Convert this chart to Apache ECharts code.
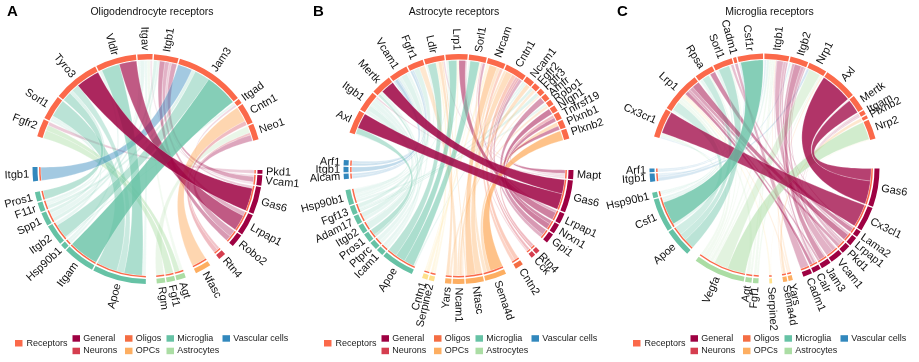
<!DOCTYPE html>
<html><head><meta charset="utf-8">
<script src="https://cdn.jsdelivr.net/npm/echarts@6/dist/echarts.min.js"></script>
<style>html,body{margin:0;padding:0;background:#fff}#c{width:919px;height:362px}</style>
</head><body><div id="c"></div>
<script>
// ---------------- DATA ----------------
const panelTitles = ['Oligodendrocyte receptors', 'Astrocyte receptors', 'Microglia receptors'];
const panelLetters = ['A', 'B', 'C'];
const legendGroups = ['General', 'Neurons', 'Oligos', 'OPCs', 'Microglia', 'Astrocytes', 'Vascular cells'];

// Panel A
const recA = ['Fgfr2','Sorl1','Tyro3','Vldlr','Itgav','Itgb1','Jam3','Itgad','Cntn1','Neo1'];
const recSizeA = [9.5, 13, 24.5, 21.5, 8, 13, 37, 2.5, 11, 8.5];
const ligA = ['Pkd1','Vcam1','Gas6','Lrpap1','Robo2','Rtn4','Nfasc','Agt','Fgf1','Rgm','Apoe','Itgam','Hsp90b1','Itgb2','Spp1','F11r','Pros1','Itgb1'];
const ligGroupA = ['General','General','General','General','General','Neurons','OPCs','Astrocytes','Astrocytes','Astrocytes','Microglia','Microglia','Microglia','Microglia','Microglia','Microglia','Microglia','Vascular cells'];
const ligSizeA = [2, 5.5, 14.5, 11.5, 7, 4, 8.5, 5, 4.5, 4.5, 28.5, 17, 3, 11, 7, 5, 5, 7.5];
const linksA = [
 ['Pkd1','Fgfr2',2,0.2],['Agt','Fgfr2',3,0.45],['Fgf1','Fgfr2',4.5,0.45],
 ['Apoe','Sorl1',11,0.45],['Itgb2','Sorl1',2,0.15],['F11r','Sorl1',1.5,0.15],
 ['Pros1','Tyro3',5,0.45],['Gas6','Tyro3',13,0.85],['Spp1','Tyro3',2,0.2],['Apoe','Tyro3',4,0.35],
 ['Apoe','Vldlr',9.5,0.55],['Lrpap1','Vldlr',9,0.65],['Hsp90b1','Vldlr',1.5,0.15],
 ['Spp1','Itgav',3,0.15],['Agt','Itgav',2,0.15],['Vcam1','Itgav',1.5,0.1],['F11r','Itgav',1.5,0.12],['Apoe','Itgav',2,0.12],
 ['Vcam1','Itgb1',3,0.35],['Spp1','Itgb1',2,0.2],['Lrpap1','Itgb1',2.5,0.3],['Hsp90b1','Itgb1',1.5,0.15],['Robo2','Itgb1',3,0.4],['Gas6','Itgb1',1.5,0.2],
 ['Itgb1','Jam3',7.5,0.45],['Itgb2','Jam3',8,0.45],['Itgam','Jam3',17,0.8],['F11r','Jam3',2,0.2],
 ['Vcam1','Itgad',1,0.15],['Itgb2','Itgad',1,0.15],
 ['Rtn4','Cntn1',2.5,0.35],['Nfasc','Cntn1',8.5,0.5],
 ['Rtn4','Neo1',1.5,0.3],['Rgm','Neo1',4.5,0.25],['Robo2','Neo1',4,0.35]
];

// Panel B
const recB = ['Axl','Itgb1','Mertk','Vcam1','Fgfr1','Ldlr','Lrp1','Sorl1','Nrcam','Cntn1','Ncam1','Fgfr2','Fgfr3','Amfr','Robo1','Nlgn1','Tnfrsf19','Plxnb1','Plxnb2'];
const recSizeB = [13.1, 11.4, 11.4, 10.5, 8.9, 11.2, 12.2, 9.8, 10, 12, 5, 3.5, 3, 3.5, 3, 3.5, 4, 4.5, 5.6];
const ligB = ['Mapt','Gas6','Lrpap1','Nrxn1','Gpi1','Rtn4','Cck','Cntn2','Sema4d','Nfasc','Ncam1','Yars','Serpine2','Cntn1','Apoe','Icam1','Ptprc','Pros1','Itgb2','Adam17','Fgf13','Hsp90b1','Alcam','Itgb1','Arf1'];
const ligGroupB = ['General','General','General','General','General','Neurons','Neurons','Oligos','OPCs','OPCs','OPCs','OPCs','Other','Other','Microglia','Microglia','Microglia','Microglia','Microglia','Microglia','Microglia','Microglia','Vascular cells','Vascular cells','Vascular cells'];
const ligSizeB = [5, 18, 6, 5.5, 5.5, 2.5, 2.5, 4.5, 12, 10, 6.5, 3.5, 3, 3, 18.5, 4, 4.5, 5, 5, 5, 5, 8.5, 3, 3, 3];
const linksB = [
 ['Gas6','Axl',9,0.85],['Pros1','Axl',3.5,0.45],['Hsp90b1','Axl',0.6,0.1],
 ['Hsp90b1','Itgb1',2,0.15],['Adam17','Itgb1',3,0.2],['Itgb2','Itgb1',1,0.15],['Icam1','Itgb1',2,0.15],['Ptprc','Itgb1',2.5,0.15],['Mapt','Itgb1',1,0.15],
 ['Gas6','Mertk',8,0.85],['Pros1','Mertk',1.5,0.3],['Icam1','Mertk',2,0.12],
 ['Itgb2','Vcam1',4,0.2],['Ptprc','Vcam1',2,0.12],['Adam17','Vcam1',2,0.15],['Itgb1','Vcam1',2,0.3],['Alcam','Vcam1',1,0.2],['Arf1','Vcam1',1,0.2],
 ['Fgf13','Fgfr1',3,0.2],['Ncam1','Fgfr1',3,0.3],['Arf1','Fgfr1',1,0.25],['Alcam','Fgfr1',1,0.2],
 ['Apoe','Ldlr',5,0.45],['Serpine2','Ldlr',1.5,0.25],['Nfasc','Ldlr',1,0.3],['Yars','Ldlr',2,0.35],['Hsp90b1','Ldlr',1,0.12],['Mapt','Ldlr',1,0.15],
 ['Lrpap1','Lrp1',4.5,0.5],['Apoe','Lrp1',5.5,0.55],['Serpine2','Lrp1',1.5,0.2],['Hsp90b1','Lrp1',1.5,0.12],['Mapt','Lrp1',1,0.15],
 ['Apoe','Sorl1',5.5,0.55],['Lrpap1','Sorl1',1.5,0.3],['Cck','Sorl1',1,0.2],['Hsp90b1','Sorl1',1,0.12],['Cntn1','Sorl1',1,0.2],
 ['Nfasc','Nrcam',5,0.5],['Cntn2','Nrcam',2,0.3],['Cntn1','Nrcam',2,0.25],['Sema4d','Nrcam',2,0.3],
 ['Nfasc','Cntn1',4,0.4],['Rtn4','Cntn1',1,0.4],['Cck','Cntn1',1.5,0.35],['Cntn2','Cntn1',2.5,0.35],['Gpi1','Cntn1',2,0.3],['Ncam1','Cntn1',1.5,0.3],
 ['Ncam1','Ncam1',2,0.35],['Fgf13','Ncam1',1,0.15],['Apoe','Ncam1',1,0.15],
 ['Fgf13','Fgfr2',1,0.2],['Ncam1','Fgfr2',1,0.25],
 ['Fgf13','Fgfr3',1,0.2],['Ncam1','Fgfr3',0.5,0.2],
 ['Gpi1','Amfr',3.5,0.4],
 ['Yars','Robo1',1.5,0.25],['Hsp90b1','Robo1',1.5,0.15],
 ['Nrxn1','Nlgn1',3,0.5],
 ['Nrxn1','Tnfrsf19',2,0.45],['Rtn4','Tnfrsf19',1.5,0.35],
 ['Sema4d','Plxnb1',2,0.4],['Mapt','Plxnb1',2,0.45],
 ['Sema4d','Plxnb2',7,0.75]
];

// Panel C
const recC = ['Cx3cr1','Lrp1','Rpsa','Sorl1','Cadm1','Csf1r','Itgb1','Itgb2','Nrp1','Axl','Mertk','Itgam','Plxnb2','Nrp2'];
const recSizeC = [15.8, 22.2, 10.2, 10.5, 1.7, 13.7, 13.3, 9.8, 10, 18.2, 8.5, 2.3, 1.8, 10.7];
const ligC = ['Gas6','Cx3cl1','Lama2','Lrpap1','Pkd1','Vcam1','Jam3','Calr','Cadm1','Yars','Sema4d','Serpine2','Fgf1','Agt','Vegfa','Apoe','Csf1','Hsp90b1','Itgb1','Arf1'];
const ligGroupC = ['General','General','General','General','General','General','General','General','General','OPCs','OPCs','Other','Astrocytes','Astrocytes','Astrocytes','Microglia','Microglia','Microglia','Vascular cells','Vascular cells'];
const ligSizeC = [21, 13.5, 3.5, 5, 5, 7, 5.5, 4.5, 5, 2.3, 2.3, 1.5, 3, 3.5, 28.5, 15.5, 18.5, 3, 4.5, 2];
const linksC = [
 ['Cx3cl1','Cx3cr1',13,0.75],['Vegfa','Cx3cr1',1.5,0.15],['Hsp90b1','Cx3cr1',1,0.12],['Itgb1','Cx3cr1',0.8,0.12],
 ['Lrpap1','Lrp1',4,0.5],['Calr','Lrp1',2,0.45],['Apoe','Lrp1',5,0.3],['Serpine2','Lrp1',1.5,0.2],['Pkd1','Lrp1',2,0.35],['Hsp90b1','Lrp1',1,0.12],['Agt','Lrp1',1.5,0.15],['Vegfa','Lrp1',2,0.15],['Yars','Lrp1',0.7,0.2],['Jam3','Lrp1',1.5,0.3],
 ['Lama2','Rpsa',3,0.45],['Apoe','Rpsa',4,0.35],['Hsp90b1','Rpsa',0.5,0.1],['Vegfa','Rpsa',1,0.15],['Csf1','Rpsa',1.5,0.15],
 ['Apoe','Sorl1',6,0.45],['Lrpap1','Sorl1',1.5,0.25],['Csf1','Sorl1',1.5,0.15],['Vegfa','Sorl1',1,0.12],
 ['Cadm1','Cadm1',1.7,0.3],
 ['Csf1','Csf1r',13,0.8],['Arf1','Csf1r',1,0.15],
 ['Vcam1','Itgb1',4,0.3],['Lama2','Itgb1',1,0.3],['Calr','Itgb1',0.5,0.25],['Pkd1','Itgb1',2,0.25],['Vegfa','Itgb1',1.5,0.15],['Fgf1','Itgb1',1.5,0.15],['Agt','Itgb1',1,0.15],['Hsp90b1','Itgb1',0.5,0.1],['Yars','Itgb1',0.7,0.2],['Csf1','Itgb1',1.5,0.15],['Arf1','Itgb1',1,0.15],
 ['Jam3','Itgb2',4,0.4],['Calr','Itgb2',1.5,0.3],['Vcam1','Itgb2',2,0.3],['Pkd1','Itgb2',1,0.25],['Itgb1','Itgb2',1,0.15],['Vegfa','Itgb2',1,0.12],
 ['Vegfa','Nrp1',7,0.35],['Itgb1','Nrp1',1.5,0.2],['Sema4d','Nrp1',1,0.2],['Fgf1','Nrp1',1,0.15],
 ['Gas6','Axl',14,0.8],
 ['Gas6','Mertk',7.5,0.75],['Calr','Mertk',0.5,0.15],
 ['Jam3','Itgam',1,0.2],['Calr','Itgam',0.5,0.2],['Vcam1','Itgam',0.5,0.2],
 ['Sema4d','Plxnb2',1.8,0.3],
 ['Vegfa','Nrp2',9,0.55],['Serpine2','Nrp2',0.5,0.15]
];

// ---------------- STYLE / LAYOUT ----------------
const COLORS = {
  'Receptors': '#FB694A', 'General': '#9E0142', 'Neurons': '#D53E4F', 'Oligos': '#F46D43',
  'OPCs': '#FDAE61', 'Microglia': '#66C2A5', 'Astrocytes': '#ABDDA4', 'Vascular cells': '#3288BD', 'Other': '#FEE08B'
};
const FONT = '"Liberation Sans", Arial, Helvetica, sans-serif';
const LAYOUT = [
  {cx: 147.5, cy: 169, recSpan: [-73.5, 75], ligSpan: [90.5, 271], titleX: 152, letterX: 7, legendX: 0},
  {cx: 458.5, cy: 169, recSpan: [-71.5, 74.6], ligSpan: [90.5, 274.5], titleX: 454, letterX: 313, legendX: 309},
  {cx: 764.5, cy: 168.5, recSpan: [-73.8, 74.9], ligSpan: [90, 270], titleX: 769.5, letterX: 617, legendX: 618}
];
const R_OUT = 115, R_IN_REC = 109.5, R_IN_LIG = 110, BAR_OUT = 108.4, BAR_IN = 106.9;
const RIB_LIG = 106.6, RIB_REC = 108.6, LABEL_R = 118.5;
const SMALL_GAP = 0.7, GROUP_GAP = 5.5;

const PANELS = [
  {rec: recA, recSize: recSizeA, lig: ligA, ligGroup: ligGroupA, ligSize: ligSizeA, links: linksA},
  {rec: recB, recSize: recSizeB, lig: ligB, ligGroup: ligGroupB, ligSize: ligSizeB, links: linksB},
  {rec: recC, recSize: recSizeC, lig: ligC, ligGroup: ligGroupC, ligSize: ligSizeC, links: linksC}
];

const sum = a => a.reduce((s, v) => s + v, 0);
const mod360 = x => ((x % 360) + 360) % 360;
const mid = s => (s.a0 + s.a1) / 2;

function buildPanel(p, L) {
  const sectors = [];
  const recIdx = {}, ligIdx = {};
  const rK = (L.recSpan[1] - L.recSpan[0] - SMALL_GAP * (p.rec.length - 1)) / sum(p.recSize);
  let a = L.recSpan[0];
  p.rec.forEach((n, i) => {
    const w = p.recSize[i] * rK;
    recIdx[n] = sectors.length;
    sectors.push({name: n, kind: 'rec', group: 'Receptors', a0: a, a1: a + w, links: []});
    a += w + SMALL_GAP;
  });
  let nGG = 0;
  for (let i = 1; i < p.lig.length; i++) if (p.ligGroup[i] !== p.ligGroup[i - 1]) nGG++;
  const nSG = p.lig.length - 1 - nGG;
  const lK = (L.ligSpan[1] - L.ligSpan[0] - SMALL_GAP * nSG - GROUP_GAP * nGG) / sum(p.ligSize);
  a = L.ligSpan[0];
  p.lig.forEach((n, i) => {
    if (i > 0) a += (p.ligGroup[i] !== p.ligGroup[i - 1]) ? GROUP_GAP : SMALL_GAP;
    const w = p.ligSize[i] * lK;
    ligIdx[n] = sectors.length;
    sectors.push({name: n, kind: 'lig', group: p.ligGroup[i], a0: a, a1: a + w, links: []});
    a += w;
  });
  const links = p.links.map(([l, r, v, s]) => ({lig: sectors[ligIdx[l]], rec: sectors[recIdx[r]], value: v, score: s}));
  links.forEach(k => { k.lig.links.push(k); k.rec.links.push(k); });
  sectors.forEach(s => {
    const m = mid(s);
    const other = k => s.kind === 'rec' ? k.lig : k.rec;
    s.links.sort((x, y) => mod360(mid(other(y)) - m) - mod360(mid(other(x)) - m));
    const tot = sum(s.links.map(k => k.value));
    let b = s.a0;
    s.links.forEach(k => {
      const w = (s.a1 - s.a0) * k.value / tot;
      if (s.kind === 'rec') { k.r0 = b; k.r1 = b + w; } else { k.l0 = b; k.l1 = b + w; }
      b += w;
    });
  });
  links.sort((x, y) => x.score - y.score);
  return {sectors, links};
}

function pt(cx, cy, r, t) { const a = t * Math.PI / 180; return [cx + r * Math.sin(a), cy - r * Math.cos(a)]; }
function ribbonPoints(cx, cy, k) {
  const pts = [];
  const arc = (r, t0, t1) => { const n = Math.max(2, Math.ceil(Math.abs(t1 - t0) / 1)); for (let i = 0; i <= n; i++) pts.push(pt(cx, cy, r, t0 + (t1 - t0) * i / n)); };
  const bez = (P0, P2) => { const N = 48; for (let i = 1; i < N; i++) { const t = i / N, u = 1 - t; pts.push([u * u * P0[0] + 2 * u * t * cx + t * t * P2[0], u * u * P0[1] + 2 * u * t * cy + t * t * P2[1]]); } };
  arc(RIB_LIG, k.l0, k.l1);
  bez(pt(cx, cy, RIB_LIG, k.l1), pt(cx, cy, RIB_REC, k.r0));
  arc(RIB_REC, k.r0, k.r1);
  bez(pt(cx, cy, RIB_REC, k.r1), pt(cx, cy, RIB_LIG, k.l0));
  return pts;
}
function rgba(hex, a) {
  const n = parseInt(hex.slice(1), 16);
  return 'rgba(' + (n >> 16 & 255) + ',' + (n >> 8 & 255) + ',' + (n & 255) + ',' + a + ')';
}
const toRad = d => (d - 90) * Math.PI / 180;

const series = [];
PANELS.forEach((p, pi) => {
  const L = LAYOUT[pi];
  const built = buildPanel(p, L);
  series.push({
    type: 'custom', coordinateSystem: 'none', silent: true, z: 1,
    data: built.links.map(k => [k.value, k.score]),
    renderItem: (params) => {
      const k = built.links[params.dataIndex];
      return {type: 'polygon', shape: {points: ribbonPoints(L.cx, L.cy, k)},
        style: {fill: rgba(COLORS[k.lig.group], k.score), stroke: 'rgba(255,255,255,0.45)', lineWidth: 0.5}};
    }
  });
  series.push({
    type: 'custom', coordinateSystem: 'none', silent: true, z: 2,
    data: built.sectors.map(s => [s.a1 - s.a0]),
    renderItem: (params) => {
      const s = built.sectors[params.dataIndex];
      const children = [];
      children.push({type: 'sector', shape: {cx: L.cx, cy: L.cy, r0: s.kind === 'rec' ? R_IN_REC : R_IN_LIG, r: R_OUT,
        startAngle: toRad(s.a0), endAngle: toRad(s.a1), clockwise: true}, style: {fill: COLORS[s.group]}});
      if (s.kind === 'lig') {
        children.push({type: 'sector', shape: {cx: L.cx, cy: L.cy, r0: BAR_IN, r: BAR_OUT,
          startAngle: toRad(s.a0), endAngle: toRad(s.a1), clockwise: true}, style: {fill: COLORS['Receptors']}});
      }
      const m = mid(s), mn = mod360(m);
      const right = mn > 0 && mn < 180;
      const P = pt(L.cx, L.cy, LABEL_R, m);
      const rot = (right ? (90 - m) : (270 - m)) * Math.PI / 180;
      children.push({type: 'text', x: P[0], y: P[1], rotation: rot,
        style: {text: s.name, fill: '#111', fontSize: 11, fontFamily: FONT,
          align: right ? 'left' : 'right', textAlign: right ? 'left' : 'right',
          verticalAlign: 'middle', textVerticalAlign: 'middle'}});
      return {type: 'group', children};
    }
  });
});

// titles, letters, legends
const graphics = [];
LAYOUT.forEach((L, pi) => {
  graphics.push({type: 'text', x: L.titleX, y: 12, style: {text: panelTitles[pi], fill: '#111', fontSize: 10.5, fontFamily: FONT,
    align: 'center', textAlign: 'center', verticalAlign: 'middle', textVerticalAlign: 'middle'}});
  graphics.push({type: 'text', x: L.letterX, y: 12, style: {text: panelLetters[pi], fill: '#000', fontSize: 15, fontWeight: 'bold', fontFamily: FONT,
    align: 'left', textAlign: 'left', verticalAlign: 'middle', textVerticalAlign: 'middle'}});
  const ox = L.legendX;
  graphics.push({type: 'rect', shape: {x: ox + 15, y: 340, width: 7.5, height: 6.5}, style: {fill: COLORS['Receptors']}});
  graphics.push({type: 'text', x: ox + 26.5, y: 344, style: {text: 'Receptors', fill: '#222', fontSize: 9, fontFamily: FONT,
    align: 'left', textAlign: 'left', verticalAlign: 'middle', textVerticalAlign: 'middle'}});
  const colX = [72.5, 125, 166.5, 222.5];
  legendGroups.forEach((g, gi) => {
    const c = Math.floor(gi / 2), r = gi % 2;
    const x = ox + colX[c], y = r === 0 ? 338.5 : 351;
    graphics.push({type: 'rect', shape: {x: x, y: y - 3.3, width: 7.5, height: 6.5}, style: {fill: COLORS[g]}});
    graphics.push({type: 'text', x: x + 10.8, y: y, style: {text: g, fill: '#222', fontSize: 9, fontFamily: FONT,
      align: 'left', textAlign: 'left', verticalAlign: 'middle', textVerticalAlign: 'middle'}});
  });
});

const chart = echarts.init(document.getElementById('c'), null, {renderer: 'canvas'});
chart.setOption({
  animation: false,
  backgroundColor: '#fff',
  series: series,
  graphic: {elements: graphics}
});
</script></body></html>
